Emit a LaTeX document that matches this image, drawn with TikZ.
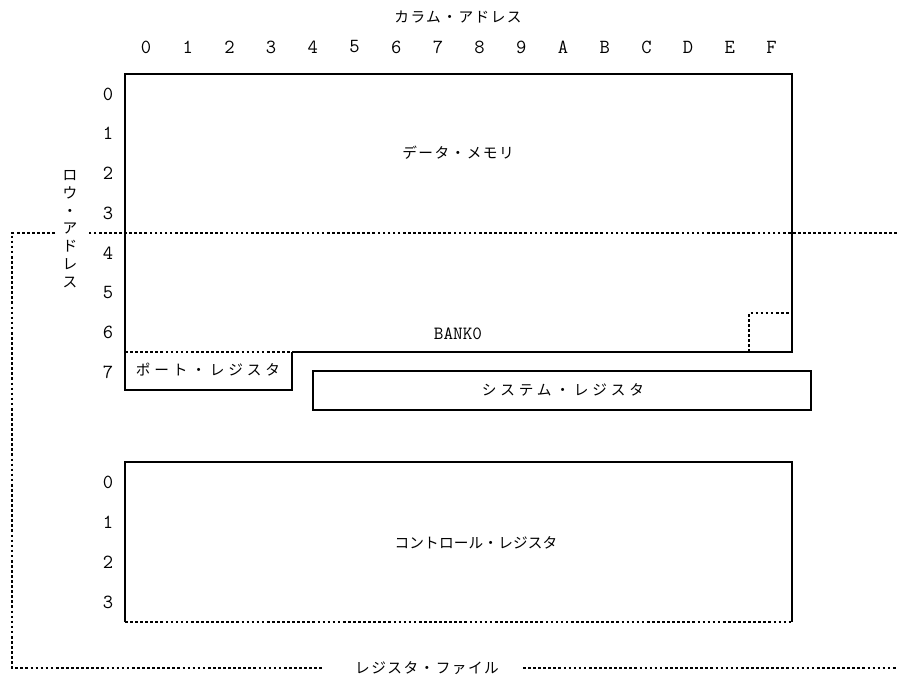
\documentclass[tikz,border=0pt]{standalone}
\usepackage{fontspec}
\newfontfamily\jp[LetterSpace=10]{Noto Sans CJK JP}
\newfontfamily\jpwide[LetterSpace=26]{Noto Sans CJK JP}
\newfontfamily\jptight[LetterSpace=1]{Noto Sans CJK JP}
\begin{document}
\begin{tikzpicture}[x=0.75pt,y=-0.75pt,
  thickline/.style={line width=1.3pt,line join=miter},
  dotline/.style={line width=0.8pt,dash pattern=on 2pt off 1.8pt},
  jplabel/.style={font=\jp\fontsize{11}{13}\selectfont,inner sep=0pt},
  numlabel/.style={font=\ttfamily\fontsize{15}{16}\selectfont,inner sep=0pt}]
\useasboundingbox (0,0) rectangle (897,682);
% named corners
\coordinate (dmNW) at (125,74);
\coordinate (dmNE) at (792,74);
\coordinate (dmSE) at (792,352);
\coordinate (dmSW) at (125,352);
\coordinate (pSW) at (125,390);
\coordinate (pSE) at (292,390);
\coordinate (pNE) at (292,352);
\coordinate (sNW) at (313,371);
\coordinate (sSE) at (811,410);
\coordinate (cNW) at (125,462);
\coordinate (cNE) at (792,462);
\coordinate (cSE) at (792,622);
\coordinate (cSW) at (125,622);
\coordinate (bNW) at (749,313);
\coordinate (bNE) at (792,313);
\coordinate (bSW) at (749,352);
% data memory + port register
\draw[thickline] (pNE) -- (dmSE) -- (dmNE) -- (dmNW) -- (pSW) -- (pSE) -- (pNE);
\draw[dotline] (dmSW) -- (pNE);
\draw[dotline] (bSW) -- (bNW) -- (bNE);
% system register
\draw[thickline] (sNW) rectangle (sSE);
% control register
\draw[thickline] (cSW) -- (cNW) -- (cNE) -- (cSE);
\draw[dotline] (cSW) -- (cSE);
% register file boundary
\coordinate (rfR) at (897,233);
\coordinate (rfA) at (88,233);
\coordinate (rfB) at (55,233);
\coordinate (rfC) at (12,233);
\coordinate (rfD) at (12,668);
\coordinate (rfE) at (322,668);
\coordinate (rfF) at (523,668);
\coordinate (rfG) at (897,668);
\draw[dotline] (rfR) -- (rfA);
\draw[dotline] (rfB) -- (rfC) -- (rfD) -- (rfE);
\draw[dotline] (rfF) -- (rfG);
% texts
\node[jplabel] (coltitle) at (458,17) {カラム・アドレス};
\foreach \c [count=\i from 0] in {0,1,2,3,4,5,6,7,8,9,A,B,C,D,E,F}
  \node[numlabel] (col\c) at ({146+41.7*\i},47) {\c};
\foreach \r in {0,...,7}
  \node[numlabel] (row\r) at (108,{94+39.7*\r}) {\r};
\foreach \r in {0,...,3}
  \node[numlabel] (crow\r) at (108,{482+40*\r}) {\r};
\node[jplabel,align=center,font=\jp\fontsize{11}{13.35}\selectfont] (rowtitle) at (70,229) {ロ\\ウ\\・\\ア\\ド\\レ\\ス};
\node[jplabel] (dmtext) at (458,153) {データ・メモリ};
\node[numlabel,font=\ttfamily\fontsize{14}{16}\selectfont] (bank) at (458,334) {BANK0};
\node[jplabel,font=\jpwide\fontsize{11}{13}\selectfont] (porttext) at (208,370) {ポート・レジスタ};
\node[jplabel,font=\jpwide\fontsize{11}{13}\selectfont] (systext) at (563,390) {システム・レジスタ};
\node[jplabel,font=\jptight\fontsize{11}{13}\selectfont] (ctrltext) at (476,543) {コントロール・レジスタ};
\node[jplabel] (rftext) at (427,668) {レジスタ・ファイル};
\end{tikzpicture}
\end{document}
